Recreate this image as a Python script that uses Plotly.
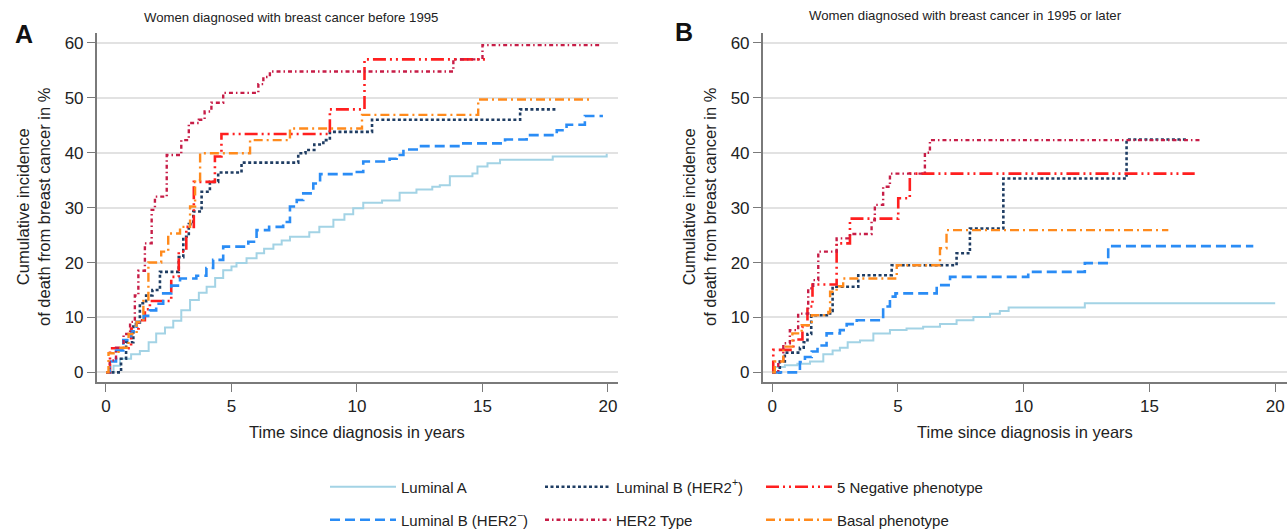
import plotly.graph_objects as go

# ---------------- data ----------------
series_names = ["Luminal A", "Luminal B (HER2<sup>+</sup>)", "5 Negative phenotype",
                "Luminal B (HER2<sup>\u2212</sup>)", "HER2 Type", "Basal phenotype"]

# Panel A: diagnosed before 1995
lumA_A_x = [0, 0.3, 0.56, 1.0, 1.35, 1.7, 2.0, 2.35, 2.68, 3.0, 3.35, 3.7, 4.01, 4.35, 4.67, 5.0, 5.2, 5.6, 6.0,
            6.3, 6.67, 7.0, 7.33, 8.1, 8.5, 9.06, 9.5, 9.85, 10.25, 11.0, 11.7, 12.37, 13.0, 13.3, 13.7, 14.6,
            14.8, 15.2, 15.7, 17.8, 19.95]
lumA_A_y = [0, 1.2, 2.5, 3.3, 3.9, 5.5, 7.1, 8.2, 9.4, 11.3, 13.2, 14.5, 15.6, 17.2, 18.6, 19.3, 19.9, 20.8, 21.7,
            22.5, 23.3, 24.0, 24.7, 25.5, 26.5, 27.8, 28.8, 29.9, 30.9, 31.3, 32.7, 33.3, 33.8, 34.1, 35.7, 36.2,
            37.5, 38.1, 38.7, 39.3, 39.8]

lumBpos_A_x = [0, 0.6, 0.8, 1.09, 1.35, 1.6, 1.85, 2.15, 2.9, 3.08, 3.3, 3.48, 3.81, 4.14, 4.47, 5.4, 7.66, 7.95,
               8.3, 8.66, 8.92, 10.6, 16.5, 17.95]
lumBpos_A_y = [0, 2.5, 5.5, 8.8, 12.6, 14.0, 15.0, 18.3, 21.0, 24.7, 27.0, 29.3, 32.9, 34.7, 36.4, 38.2, 39.9, 40.5,
               41.5, 42.3, 43.8, 46.0, 47.9, 47.9]

neg5_A_x = [0, 0.16, 1.0, 1.3, 1.55, 1.75, 2.6, 2.9, 3.2, 3.5, 4.34, 4.6, 8.92, 10.3, 15.1]
neg5_A_y = [0, 4.4, 8.0, 9.5, 11.5, 13.0, 17.4, 22.0, 26.5, 34.7, 39.3, 43.4, 47.9, 57.0, 57.0]

lumBneg_A_x = [0, 0.15, 0.4, 0.69, 1.0, 1.22, 1.5, 1.75, 2.0, 2.28, 2.6, 2.95, 3.6, 4.0, 4.27, 4.67, 5.67, 6.0,
               6.5, 7.06, 7.33, 7.6, 7.86, 8.26, 8.53, 9.9, 10.25, 11.3, 11.58, 11.85, 12.5, 14.1, 15.9, 16.76,
               17.96, 18.35, 19.08, 19.8]
lumBneg_A_y = [0, 2.0, 4.0, 5.9, 7.5, 9.2, 10.3, 11.3, 12.5, 14.4, 15.8, 17.1, 17.6, 19.0, 20.5, 22.9, 23.8, 25.9,
               26.5, 27.4, 30.2, 31.4, 32.6, 34.4, 36.1, 36.5, 38.4, 38.9, 39.6, 40.6, 41.2, 41.7, 42.4, 43.2,
               44.1, 45.1, 46.7, 46.7]

her2_A_x = [0, 0.15, 0.4, 0.7, 0.96, 1.15, 1.29, 1.55, 1.82, 1.95, 2.42, 3.0, 3.3, 3.7, 3.93, 4.2, 4.67, 6.07,
            6.27, 6.53, 13.84, 15.0, 19.75]
her2_A_y = [0, 2.2, 4.5, 7.0, 9.2, 14.0, 18.5, 23.5, 29.6, 32.0, 39.6, 42.3, 45.4, 46.0, 47.5, 49.1, 50.9, 52.5,
            53.8, 54.8, 57.0, 59.6, 59.6]

basal_A_x = [0, 0.1, 0.5, 0.9, 1.22, 1.49, 1.69, 2.2, 2.48, 2.95, 3.35, 3.55, 3.75, 5.74, 7.33, 10.2, 14.83, 19.3]
basal_A_y = [0, 3.5, 4.5, 7.0, 9.2, 13.0, 20.0, 22.0, 25.3, 26.5, 30.2, 35.0, 39.9, 42.3, 44.4, 46.9, 49.7, 49.7]

# Panel B: diagnosed in 1995 or later
lumA_B_x = [0, 0.1, 0.5, 1.0, 1.5, 2.03, 2.4, 2.69, 3.0, 3.49, 4.02, 4.68, 5.34, 6.0, 6.67, 7.33, 8.0, 8.66, 9.05,
            9.4, 12.43, 20.0]
lumA_B_y = [0, 1.0, 1.3, 1.6, 2.0, 3.3, 4.0, 4.5, 5.5, 5.8, 7.1, 7.7, 8.0, 8.3, 8.8, 9.5, 10.1, 10.7, 11.2, 11.8,
            12.6, 12.6]

lumBpos_B_x = [0, 0.3, 0.5, 1.1, 1.25, 1.4, 1.55, 2.3, 2.4, 3.42, 4.75, 7.33, 7.86, 9.19, 14.09, 16.5]
lumBpos_B_y = [0, 2.0, 3.6, 4.5, 5.5, 7.0, 10.4, 11.2, 15.6, 17.7, 19.5, 21.7, 26.2, 35.3, 42.4, 42.4]

neg5_B_x = [0, 0.04, 0.84, 1.2, 1.4, 1.6, 2.56, 3.09, 5.01, 5.47, 16.8]
neg5_B_y = [0, 4.1, 6.0, 8.3, 12.0, 16.0, 23.5, 28.0, 31.7, 36.2, 36.2]

lumBneg_B_x = [0, 1.1, 1.3, 1.57, 1.8, 2.16, 2.69, 2.96, 3.36, 4.41, 4.68, 4.9, 6.54, 7.07, 10.18, 12.43, 13.36, 19.13]
lumBneg_B_y = [0, 1.9, 2.8, 3.8, 4.9, 7.1, 7.7, 8.8, 9.5, 12.0, 13.8, 14.4, 15.9, 17.4, 18.3, 19.9, 23.0, 23.0]

her2_B_x = [0, 0.24, 0.44, 0.7, 1.03, 1.43, 1.63, 1.83, 2.56, 3.09, 3.95, 4.08, 4.41, 4.68, 6.07, 6.27, 17.07]
her2_B_y = [0, 2.0, 5.3, 7.7, 10.7, 15.3, 16.8, 22.0, 24.4, 25.2, 27.7, 30.5, 33.8, 36.2, 40.0, 42.3, 42.3]

basal_B_x = [0, 0.1, 0.44, 0.8, 1.17, 1.57, 2.23, 2.3, 2.56, 2.82, 4.95, 6.67, 6.93, 15.75]
basal_B_y = [0, 2.0, 4.7, 7.1, 8.6, 10.4, 11.0, 14.7, 15.7, 17.1, 19.5, 22.6, 25.9, 25.9]

x_ticks = [0, 5, 10, 15, 20]
y_ticks = [0, 10, 20, 30, 40, 50, 60]

titles = ["Women diagnosed with breast cancer before 1995",
          "Women diagnosed with breast cancer in 1995 or later"]
panel_letters = ["A", "B"]
x_title = "Time since diagnosis in years"
y_title = "Cumulative incidence<br>of death from breast cancer in %"

# ---------------- styles ----------------
colors = ["#a3d3e5", "#1f3d63", "#ff1f1f", "#2a8cf5", "#c71d47", "#ff8a1c"]
dashes = ["solid", "3px,2.5px", "13px,4px,2px,4px,2px,4px", "10px,5px", "4px,3px,1.5px,3px", "9px,4px,2px,4px"]
widths = [2, 2.6, 2.6, 2.6, 2.4, 2.4]
legend_ids = ["legend", "legend2", "legend3", "legend4", "legend5", "legend6"]
legend_px = [(325, 487), (540, 487), (761, 487), (325, 520), (540, 520), (761, 520)]

panel_A = [(lumA_A_x, lumA_A_y), (lumBpos_A_x, lumBpos_A_y), (neg5_A_x, neg5_A_y),
           (lumBneg_A_x, lumBneg_A_y), (her2_A_x, her2_A_y), (basal_A_x, basal_A_y)]
panel_B = [(lumA_B_x, lumA_B_y), (lumBpos_B_x, lumBpos_B_y), (neg5_B_x, neg5_B_y),
           (lumBneg_B_x, lumBneg_B_y), (her2_B_x, her2_B_y), (basal_B_x, basal_B_y)]

W, H = 1287, 530
FONT = "Liberation Sans, Arial, sans-serif"

fig = go.Figure()
for panel_idx, panel in enumerate([panel_A, panel_B]):
    xa = "x" if panel_idx == 0 else "x2"
    ya = "y" if panel_idx == 0 else "y2"
    for i, (xs, ys) in enumerate(panel):
        fig.add_trace(go.Scatter(
            x=xs, y=ys, mode="lines", line_shape="hv",
            line=dict(color=colors[i], dash=dashes[i], width=widths[i]),
            name=series_names[i], xaxis=xa, yaxis=ya,
            showlegend=(panel_idx == 0), legend=legend_ids[i],
        ))

def px_x(p):
    return p / W

def px_y(p):
    return 1 - p / H

y_dom = [px_y(382.3), px_y(33)]
axis_common = dict(showline=True, linecolor="#7a7a7a", linewidth=1.5, ticks="outside", ticklen=8,
                   tickwidth=1.3, tickcolor="#7a7a7a", tickfont=dict(family=FONT, size=17, color="#222"),
                   zeroline=False, automargin=False)
legend_common = dict(orientation="h", xanchor="left", yanchor="middle", itemwidth=66,
                     font=dict(family=FONT, size=15, color="#222"), bgcolor="rgba(0,0,0,0)", tracegroupgap=0)
fig.update_layout(
    width=W, height=H, margin=dict(l=0, r=0, t=0, b=0, pad=0, autoexpand=False),
    paper_bgcolor="white", plot_bgcolor="white",
    xaxis=dict(domain=[px_x(96.7), px_x(618)], range=[-0.37, 20.4], tickvals=x_ticks, showgrid=False,
               anchor="y", **axis_common),
    yaxis=dict(domain=y_dom, range=[-1.8, 61.8], tickvals=y_ticks, showgrid=True, gridcolor="#e2e2e2",
               gridwidth=1.5, anchor="x", **axis_common),
    xaxis2=dict(domain=[px_x(762.7), 1.0], range=[-0.38, 20.47], tickvals=x_ticks, showgrid=False,
                anchor="y2", **axis_common),
    yaxis2=dict(domain=y_dom, range=[-1.8, 61.8], tickvals=y_ticks, showgrid=True, gridcolor="#e2e2e2",
                gridwidth=1.5, anchor="x2", **axis_common),
)
for lid, (lx, ly) in zip(legend_ids, legend_px):
    fig.update_layout({lid: dict(x=px_x(lx), y=px_y(ly), **legend_common)})

ann = []
title_pos = [(291, 18), (965, 16)]
letter_pos = [(24, 34), (684, 32)]
ytitle_x = [33, 699]
xtitle_x = [357, 1025]
for k in range(2):
    ann.append(dict(text=titles[k], x=px_x(title_pos[k][0]), y=px_y(title_pos[k][1]), xref="paper", yref="paper",
                    showarrow=False, xanchor="center", yanchor="middle",
                    font=dict(family=FONT, size=13.2, color="#222")))
    ann.append(dict(text="<b>%s</b>" % panel_letters[k], x=px_x(letter_pos[k][0]), y=px_y(letter_pos[k][1]),
                    xref="paper", yref="paper", showarrow=False, xanchor="center", yanchor="middle",
                    font=dict(family=FONT, size=25, color="#111")))
    ann.append(dict(text=y_title, x=px_x(ytitle_x[k]), y=px_y(207), xref="paper", yref="paper",
                    showarrow=False, xanchor="center", yanchor="middle", textangle=-90,
                    font=dict(family=FONT, size=16.5, color="#222")))
    ann.append(dict(text=x_title, x=px_x(xtitle_x[k]), y=px_y(432), xref="paper", yref="paper",
                    showarrow=False, xanchor="center", yanchor="middle",
                    font=dict(family=FONT, size=16.5, color="#222")))
fig.update_layout(annotations=ann)

fig.write_html("out.html", config={"displayModeBar": False},
               post_script="document.body.style.margin='0';document.body.style.overflow='hidden';")
